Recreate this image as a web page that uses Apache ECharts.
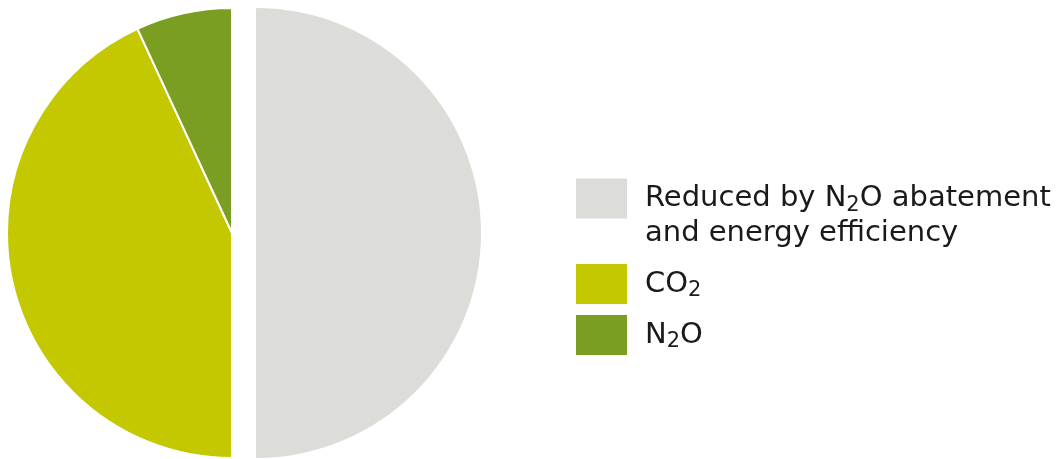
<!DOCTYPE html>
<html>
<head>
<meta charset="utf-8">
<script src="https://cdn.jsdelivr.net/npm/echarts@6/dist/echarts.min.js"></script>
<style>
  html, body { margin: 0; padding: 0; background: #fff; }
  #chart { width: 1063px; height: 459px; }
</style>
</head>
<body>
<div id="chart"></div>
<script>
var categories = ['Reduced by N\u2082O abatement\nand energy efficiency', 'CO\u2082', 'N\u2082O'];
var values = [50, 43.1, 6.9];
var colors = ['#dcddd8', '#c3c800', '#7a9e22'];

var font = 'DejaVu Sans';
var hidden = {
    name: '',
    itemStyle: {color: 'transparent', borderWidth: 0},
    emphasis: {disabled: true},
    label: {show: false}
};

// legend text: subscript 2 as its own rich token, gap token in front of each line
function richLabel(name, leadBlank) {
    var lines = name.split('\n').map(function (l) {
        var parts = l.split('\u2082');
        return '{g|}' + parts.map(function (p) { return p ? '{t|' + p + '}' : ''; }).join('{s|2}');
    });
    if (leadBlank) lines.unshift('{g|}');
    return lines.join('\n');
}

function legendAt(name, top, leadBlank) {
    return {
        data: [name],
        left: 576,
        top: top,
        padding: 0,
        orient: 'vertical',
        icon: 'rect',
        itemWidth: 51,
        itemHeight: 40,
        itemGap: 0,
        selectedMode: false,
        itemStyle: {borderWidth: 0},
        formatter: function (n) { return richLabel(n, leadBlank); },
        textStyle: {
            rich: {
                g: {width: 13, height: 35, lineHeight: 35},
                t: {fontFamily: font, fontSize: 29, lineHeight: 35, color: '#1a1a1a'},
                s: {fontFamily: font, fontSize: 21, lineHeight: 21, color: '#1a1a1a', verticalAlign: 'bottom'}
            }
        }
    };
}

var chart = echarts.init(document.getElementById('chart'));

var option = {
    color: colors,
    animation: false,
    legend: [
        legendAt(categories[0], 146, true),
        legendAt(categories[1], 264, false),
        legendAt(categories[2], 315, false)
    ],
    series: [
        {
            name: 'right',
            type: 'pie',
            center: [256, 233],
            radius: [0, 225],
            startAngle: 90,
            clockwise: true,
            silent: true,
            label: {show: false},
            labelLine: {show: false},
            data: [
                {name: categories[0], value: values[0], itemStyle: {color: colors[0]}},
                Object.assign({value: values[1] + values[2]}, hidden)
            ]
        },
        {
            name: 'left',
            type: 'pie',
            center: [232, 233],
            radius: [0, 225],
            startAngle: 90,
            clockwise: true,
            silent: true,
            label: {show: false},
            labelLine: {show: false},
            itemStyle: {borderColor: '#fff', borderWidth: 2},
            data: [
                Object.assign({value: values[0]}, hidden),
                {name: categories[1], value: values[1], itemStyle: {color: colors[1]}},
                {name: categories[2], value: values[2], itemStyle: {color: colors[2]}}
            ]
        }
    ]
};

chart.setOption(option);
</script>
</body>
</html>
